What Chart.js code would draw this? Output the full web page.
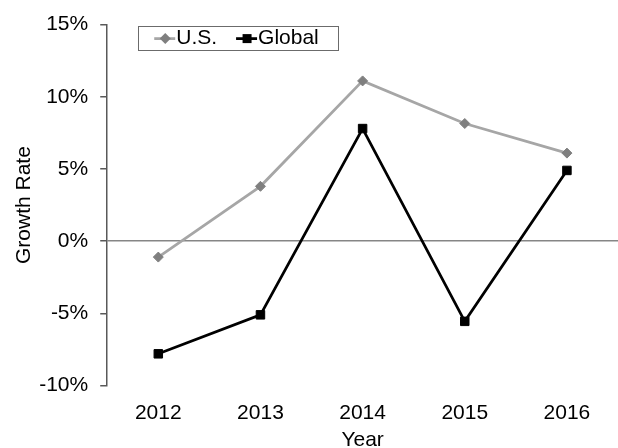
<!DOCTYPE html>
<html>
<head>
<meta charset="utf-8">
<script src="https://cdn.jsdelivr.net/npm/chart.js@4/dist/chart.umd.min.js"></script>
<style>
  html, body { margin: 0; padding: 0; overflow: hidden; background: #fff; }
  canvas { display: block; }
</style>
</head>
<body>
<canvas id="chart" width="618" height="453"></canvas>
<script>
// Annual growth rates, in percent
const years = ['2012', '2013', '2014', '2015', '2016'];
const usGrowth = [-1.1, 3.8, 11.1, 8.15, 6.1];
const globalGrowth = [-7.8, -5.1, 7.8, -5.55, 4.9];
const seriesNames = ['U.S.', 'Global'];
const yTicks = { min: -10, max: 15, step: 5 };

const FONT = "'Liberation Sans', Arial, sans-serif";

// Framed legend drawn inside the plot area, next to the top-left corner
const boxedLegend = {
  id: 'boxedLegend',
  afterDraw(chart) {
    const ctx = chart.ctx;
    const area = chart.chartArea;
    const left = area.left + 31;
    const top = area.top + 1.5;
    const h = 24;
    ctx.save();
    ctx.font = '21px ' + FONT;
    ctx.textBaseline = 'middle';
    ctx.textAlign = 'left';
    const cy = top + h / 2 + 0.5;
    let x = left + 16;
    chart.data.datasets.forEach((ds, i) => {
      // line sample
      ctx.strokeStyle = ds.borderColor;
      ctx.lineWidth = ds.borderWidth;
      ctx.beginPath();
      ctx.moveTo(x, cy);
      ctx.lineTo(x + 21, cy);
      ctx.stroke();
      // marker sample
      const mx = x + 11;
      ctx.fillStyle = ds.pointBackgroundColor;
      ctx.beginPath();
      if (ds.pointStyle === 'rectRot') {
        const r = 5.5;
        ctx.moveTo(mx, cy - r);
        ctx.lineTo(mx + r, cy);
        ctx.lineTo(mx, cy + r);
        ctx.lineTo(mx - r, cy);
        ctx.closePath();
      } else {
        ctx.rect(mx - 4.5, cy - 4.5, 9, 9);
      }
      ctx.fill();
      // label
      ctx.fillStyle = '#000';
      ctx.fillText(ds.label, x + 22, cy);
      x += 22 + ctx.measureText(ds.label).width + 19;
    });
    const w = x - left;
    ctx.strokeStyle = '#6b6b6b';
    ctx.lineWidth = 1;
    ctx.strokeRect(Math.round(left) + 0.5, Math.round(top) + 0.5, Math.round(w), h);
    ctx.restore();
  }
};

new Chart(document.getElementById('chart'), {
  type: 'line',
  data: {
    labels: years,
    datasets: [
      {
        label: seriesNames[0],
        data: usGrowth,
        borderColor: '#a6a6a6',
        borderWidth: 2.75,
        pointStyle: 'rectRot',
        pointRadius: 5,
        pointBorderWidth: 1,
        pointBackgroundColor: '#7f7f7f',
        pointBorderColor: '#7f7f7f',
        tension: 0
      },
      {
        label: seriesNames[1],
        data: globalGrowth,
        borderColor: '#000000',
        borderWidth: 2.75,
        pointStyle: 'rect',
        pointRadius: 6,
        pointBorderWidth: 1,
        pointBackgroundColor: '#000000',
        pointBorderColor: '#000000',
        tension: 0
      }
    ]
  },
  options: {
    responsive: false,
    animation: false,
    layout: { autoPadding: false, padding: { top: 23, right: 0, bottom: 0, left: 0 } },
    plugins: {
      legend: { display: false },
      tooltip: { enabled: false }
    },
    scales: {
      x: {
        offset: true,
        grid: { display: false, drawTicks: false },
        border: { display: false },
        ticks: { color: '#000', font: { family: FONT, size: 21 }, padding: 15 },
        title: {
          display: true, text: 'Year', color: '#000',
          font: { family: FONT, size: 21 }, padding: { top: -13, bottom: 0 }
        }
      },
      y: {
        min: yTicks.min,
        max: yTicks.max,
        ticks: {
          stepSize: yTicks.step,
          color: '#000',
          font: { family: FONT, size: 21 },
          padding: 12,
          callback: v => v + '%'
        },
        grid: {
          color: c => (c.tick && c.tick.value === 0) ? '#868686' : 'rgba(0,0,0,0)',
          tickColor: '#595959',
          tickLength: 7,
          lineWidth: 1.5
        },
        border: { display: true, color: '#595959', width: 1.5 },
        title: {
          display: true, text: 'Growth Rate', color: '#000',
          font: { family: FONT, size: 21 }, padding: { top: 12, bottom: -10 }
        }
      }
    }
  },
  plugins: [boxedLegend]
});
</script>
</body>
</html>
